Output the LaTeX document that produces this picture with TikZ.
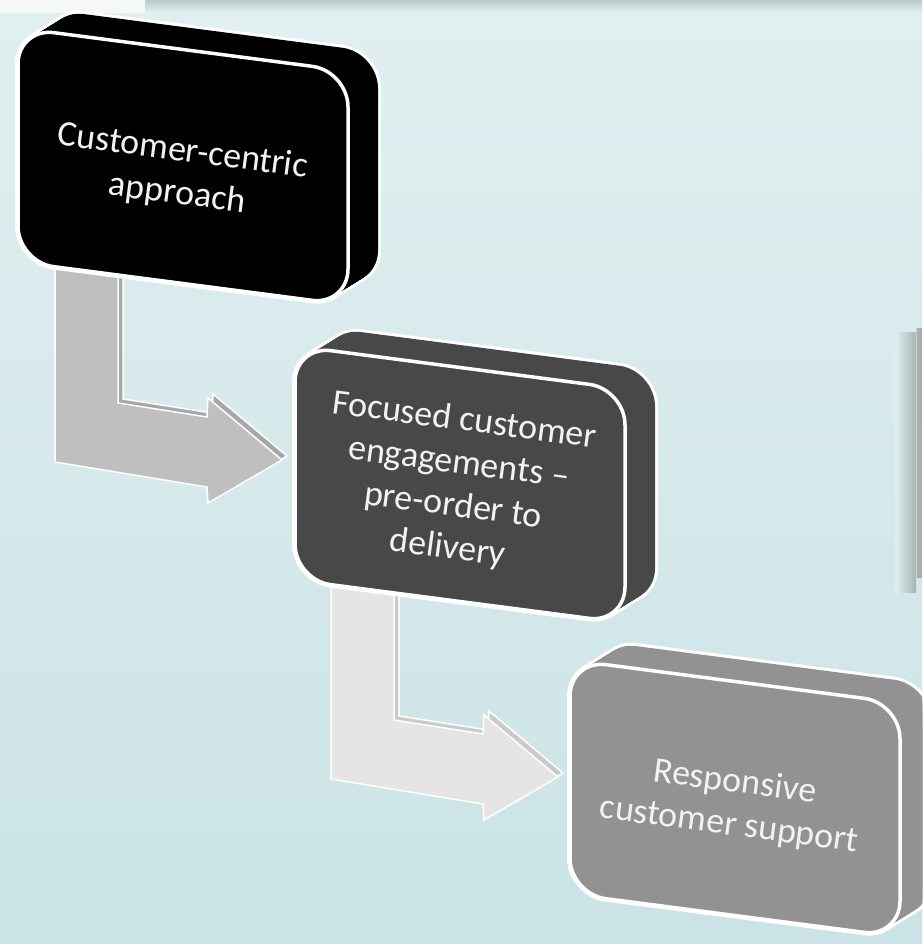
\documentclass[tikz,border=0pt]{standalone}
\usepackage{fontspec}
\setmainfont{Carlito}
\definecolor{bgtop}{HTML}{E1EFF0}
\definecolor{bgbot}{HTML}{CBE3E6}
\definecolor{boxA}{HTML}{000000}
\definecolor{boxB}{HTML}{484848}
\definecolor{boxC}{HTML}{929292}
\definecolor{arrA}{HTML}{BFBFBF}
\definecolor{arrB}{HTML}{E5E5E5}
\definecolor{txtA}{HTML}{F2F2F2}
\tikzset{
  boxtext/.style={align=center, font=\fontsize{36}{43}\selectfont, rotate=-7.5, inner sep=0pt, text=txtA},
}
\newcommand{\cuboid}[3]{%
  \foreach \t in {0,...,30}{\path[draw=white, line width=6pt, line join=round, rounded corners=36pt, shift={(#1+\t,#2-0.62*\t)}] (0,0) -- (330,43) -- (330,277) -- (0,234) -- cycle;}
  \foreach \t in {0,...,30}{\path[fill=#3, rounded corners=36pt, shift={(#1+\t,#2-0.62*\t)}] (0,0) -- (330,43) -- (330,277) -- (0,234) -- cycle;}
  \path[fill=#3, draw=white, line width=3.5pt, rounded corners=36pt, shift={(#1,#2)}] (0,0) -- (330,43) -- (330,277) -- (0,234) -- cycle;
}
\newcommand{\bentarrow}[3]{%
  \path[fill=#3!88!black, draw=white, line width=1.5pt, line join=miter, shift={(#1+5,#2-4)}] (55,240) -- (118,240) -- (118,403) -- (207,417) -- (208,398) -- (282,460) -- (208,503) -- (207,487) -- (55,462) -- cycle;
  \path[fill=#3, draw=white, line width=1.5pt, line join=miter, shift={(#1,#2)}] (55,240) -- (118,240) -- (118,403) -- (207,417) -- (208,398) -- (282,460) -- (208,503) -- (207,487) -- (55,462) -- cycle;
}
\begin{document}
\begin{tikzpicture}[x=1pt, y=-1pt]
\useasboundingbox (0,0) rectangle (922,944);
\clip (0,0) rectangle (922,944);
% background
\shade[top color=bgtop, bottom color=bgbot] (0,0) rectangle (922,944);
\shade[top color=black!16!bgtop, bottom color=bgtop] (140,0) rectangle (922,12);
\fill[white!97!black] (0,0) rectangle (145,13);
% right-edge object with shadow
\shade[left color=bgtop!95!bgbot, right color=black!25!bgtop] (895,332) rectangle (916,592);
\fill[black!32] (916,328) rectangle (922,578);
\draw[black!18, line width=1pt] (916.5,328) -- (916.5,578);
% arrows
\bentarrow{0}{0}{arrA}
\bentarrow{276}{317}{arrB}
% boxes
\cuboid{18}{28}{boxA}
\cuboid{295}{346}{boxB}
\cuboid{570}{660}{boxC}
% texts
\node[boxtext] (t1) at (180,173) {Customer-centric\\approach};
\node[boxtext] (t2) at (456,485) {Focused customer\\engagements –\\pre-order to\\delivery};
\node[boxtext] (t3) at (732,804) {Responsive\\customer support};
\end{tikzpicture}
\end{document}
